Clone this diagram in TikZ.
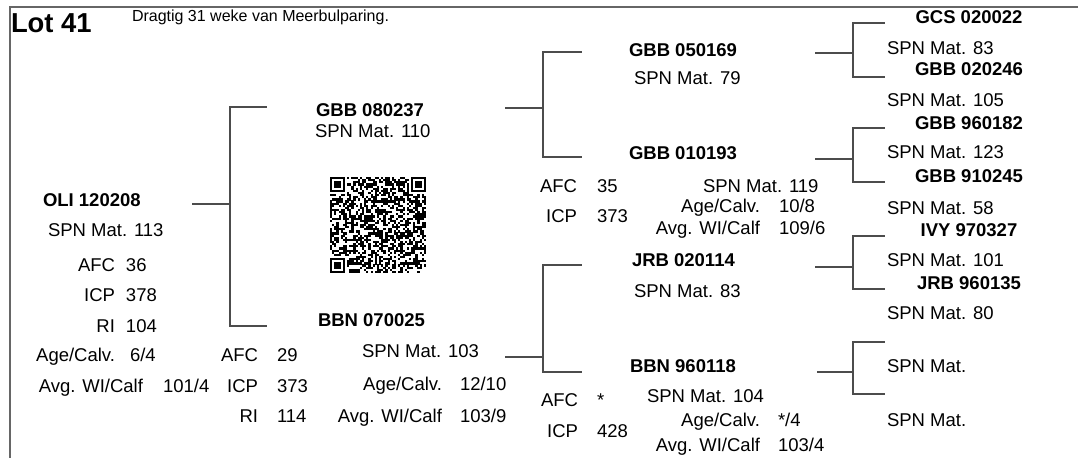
\documentclass[tikz,border=0pt]{standalone}
\usepackage{fontspec}
\setmainfont{Liberation Sans}
\usepackage{tikz}
\newcommand{\pedsize}{\fontsize{9.25}{11}\selectfont}
\newcommand{\qrmod}{2.133}

\begin{document}
\begin{tikzpicture}[x=0.5pt,y=-0.5pt,
    every node/.style={inner sep=0pt,outer sep=0pt,font=\pedsize},
    bull/.style={font=\pedsize\bfseries,anchor=base west},
    txt/.style={anchor=base west},
    lab/.style={anchor=base east},
    link/.style={draw=black!70,line width=0.55pt}]
  \useasboundingbox (0,0) rectangle (1078,458);
  \draw[black!60,line width=0.6pt] (10,458) -- (10,7) -- (1078,7);

  \node[bull,font=\fontsize{13.7}{16}\selectfont\bfseries] (lot) at (11,33) {Lot 41};
  \node[txt,font=\fontsize{8}{10}\selectfont] (note) at (132,21.5) {Dragtig 31 weke van Meerbulparing.};

  % proband
  \node[bull] (p) at (43,207) {OLI 120208};
  \node[txt] (pspn) at (48,237) {SPN Mat. 113};
  \foreach \k/\v/\y in {AFC/36/272,ICP/378/302,RI/104/333} {
    \node[lab] (p\k) at (115,\y) {\k};
    \node[txt] (p\k v) at (126,\y) {\v};
  }
  \node[lab] (page) at (115,362) {Age/Calv.};
  \node[txt] (pagev) at (130,362) {6/4};
  \node[lab] (pwi) at (143,393) {Avg. WI/Calf};
  \node[txt] (pwiv) at (163,393) {101/4};

  % parents
  \node[bull] (s) at (316,117) {GBB 080237};
  \node[txt] (sspn) at (315,138) {SPN Mat. 110};
  \node[bull] (d) at (318,327) {BBN 070025};
  \node[txt] (dspn) at (362,358) {SPN Mat. 103};
  \foreach \k/\v/\y in {AFC/29/362,ICP/373/393,RI/114/423} {
    \node[lab] (d\k) at (258,\y) {\k};
    \node[txt] (d\k v) at (277,\y) {\v};
  }
  \node[lab] (dage) at (442,391) {Age/Calv.};
  \node[txt] (dagev) at (460,391) {12/10};
  \node[lab] (dwi) at (442,423) {Avg. WI/Calf};
  \node[txt] (dwiv) at (460,423) {103/9};

  % qr code
  \coordinate (qr) at (330,177);
  \pgfmathsetseed{4120}
  \foreach \i in {0,...,44}
    \foreach \j in {0,...,44} {
      \pgfmathrandominteger{\qrbit}{0}{1}
      \ifnum\qrbit=1
        \fill (qr) ++(\i*\qrmod,\j*\qrmod) rectangle ++(2.2,2.2);
      \fi
    }
  \foreach \fx/\fy/\cx/\cy in {0/0/0/0,38/0/37/0,0/38/0/37} {
    \fill[white] (qr) ++(\cx*\qrmod,\cy*\qrmod) rectangle ++(8*\qrmod,8*\qrmod);
    \fill (qr) ++(\fx*\qrmod,\fy*\qrmod) rectangle ++(7*\qrmod,7*\qrmod);
    \fill[white] (qr) ++(\fx*\qrmod+\qrmod,\fy*\qrmod+\qrmod) rectangle ++(5*\qrmod,5*\qrmod);
    \fill (qr) ++(\fx*\qrmod+2*\qrmod,\fy*\qrmod+2*\qrmod) rectangle ++(3*\qrmod,3*\qrmod);
  }

  % grandparents
  \node[bull] (ss) at (629,57) {GBB 050169};
  \node[txt] (ssspn) at (634,85) {SPN Mat. 79};
  \node[bull] (sd) at (629,160) {GBB 010193};
  \node[txt] (sdspn) at (703,193) {SPN Mat. 119};
  \foreach \k/\v/\y in {AFC/35/193,ICP/373/223} {
    \node[lab] (sd\k) at (577,\y) {\k};
    \node[txt] (sd\k v) at (597,\y) {\v};
  }
  \node[lab] (sdage) at (760,213) {Age/Calv.};
  \node[txt] (sdagev) at (779,213) {10/8};
  \node[lab] (sdwi) at (760,235) {Avg. WI/Calf};
  \node[txt] (sdwiv) at (779,235) {109/6};

  \node[bull] (ds) at (632,267) {JRB 020114};
  \node[txt] (dsspn) at (634,298) {SPN Mat. 83};
  \node[bull] (dd) at (630,373) {BBN 960118};
  \node[txt] (ddspn) at (647,403) {SPN Mat. 104};
  \foreach \k/\v/\y in {AFC/*/407,ICP/428/438} {
    \node[lab] (dd\k) at (578,\y) {\k};
    \node[txt] (dd\k v) at (597,\y) {\v};
  }
  \node[lab] (ddage) at (760,427) {Age/Calv.};
  \node[txt] (ddagev) at (778,427) {*/4};
  \node[lab] (ddwi) at (760,452) {Avg. WI/Calf};
  \node[txt] (ddwiv) at (778,452) {103/4};

  % great-grandparents
  \foreach \n/\t/\y in {sss/GCS 020022/24,ssd/GBB 020246/76,sds/GBB 960182/130,
                        sdd/GBB 910245/183,dss/IVY 970327/237,dsd/JRB 960135/290}
    \node[bull,anchor=base] (\n) at (969,\y) {\t};
  \foreach \n/\t/\y in {sss/83/55,ssd/105/107,sds/123/159,sdd/58/215,
                        dss/101/267,dsd/80/320,dds//373,ddd//427}
    \node[txt] (\n spn) at (887,\y) {SPN Mat. \t};

  % brackets
  \foreach \b/\xa/\xv/\xb/\ym/\yt/\yb in {p/192/230/267/204/107/326,
      s/505/543/582/108/52/157,d/505/543/582/357/265/372,
      ss/815/853/885/53/23/77,sd/815/853/885/159/128/182,
      ds/815/853/885/267/236/289,dd/817/853/885/372/342/394} {
    \coordinate (\b in) at (\xa,\ym);
    \coordinate (\b fork) at (\xv,\ym);
    \coordinate (\b up) at (\xb,\yt);
    \coordinate (\b down) at (\xb,\yb);
    \draw[link] (\b in) -- (\b fork) |- (\b up);
    \draw[link] (\b fork) |- (\b down);
  }
\end{tikzpicture}
\end{document}
